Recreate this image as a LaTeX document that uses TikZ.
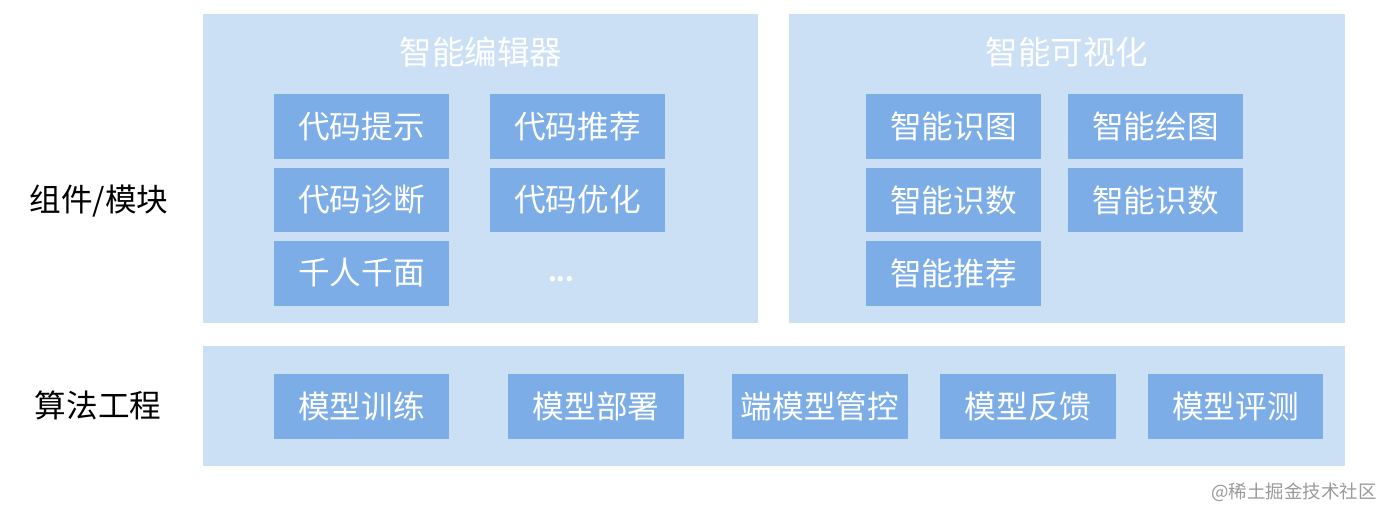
\documentclass[tikz,border=0pt]{standalone}
\usepackage{fontspec}
\usepackage{xcolor}
\usepackage{tikz}
\usetikzlibrary{positioning}
\setmainfont{Noto Sans CJK SC}
\definecolor{panelblue}{HTML}{CBDFF5}
\definecolor{boxblue}{HTML}{7CADE7}
\definecolor{markgray}{HTML}{9A9A9A}

\begin{document}
\begin{tikzpicture}[x=0.02cm, y=-0.02cm,
    panel/.style={fill=panelblue, inner sep=0pt},
    item/.style={fill=boxblue, text=white, inner sep=0pt, minimum width=3.5cm, minimum height=1.3cm, font=\fontsize{18}{21}\selectfont},
    paneltitle/.style={text=white, font=\fontsize{18.5}{21}\selectfont},
    rowlabel/.style={text=black, font=\fontsize{18}{21}\selectfont}]
    \useasboundingbox (0,0) rectangle (1390,518);

    % Panels
    \node[panel, minimum width=11.1cm, minimum height=6.18cm] (editor) at (480.5,168.5) {};
    \node[panel, minimum width=11.12cm, minimum height=6.18cm] (vis) at (1067,168.5) {};
    \node[panel, minimum width=22.84cm, minimum height=2.4cm] (algo) at (774,406) {};

    % Row labels
    \node[rowlabel] (lblmod) at (99,201) {组件/模块};
    \node[rowlabel] (lblalgo) at (98,405) {算法工程};

    % Intelligent editor
    \node[paneltitle] (edtitle) at (481,52) {智能编辑器};
    \node[item] (hint) at (361.5,126.5) {代码提示};
    \node[item] (recom) at (577.5,126.5) {代码推荐};
    \node[item] (diag) at (361.5,200) {代码诊断};
    \node[item] (optim) at (577.5,200) {代码优化};
    \node[item] (persona) at (361.5,273) {千人千面};
    \node[text=white, font=\fontsize{14}{16}\selectfont\bfseries] (more) at (561,279) {...};

    % Intelligent visualization
    \node[paneltitle] (vistitle) at (1067,52) {智能可视化};
    \node[item] (recog) at (953.5,126.5) {智能识图};
    \node[item] (draw) at (1155.5,126.5) {智能绘图};
    \node[item] (num1) at (953.5,200) {智能识数};
    \node[item] (num2) at (1155.5,200) {智能识数};
    \node[item] (visrec) at (953.5,273) {智能推荐};

    % Algorithm engineering
    \node[item] (train) at (361.5,406.5) {模型训练};
    \node[item, minimum width=3.52cm] (deploy) at (596,406.5) {模型部署};
    \node[item, minimum width=3.52cm] (edge) at (820,406.5) {端模型管控};
    \node[item, minimum width=3.52cm] (feedback) at (1028,406.5) {模型反馈};
    \node[item] (eval) at (1235.5,406.5) {模型评测};

    % Watermark
    \node[text=markgray, font=\fontsize{10.5}{12}\selectfont] (mark) at (1294,492) {@稀土掘金技术社区};
\end{tikzpicture}
\end{document}
